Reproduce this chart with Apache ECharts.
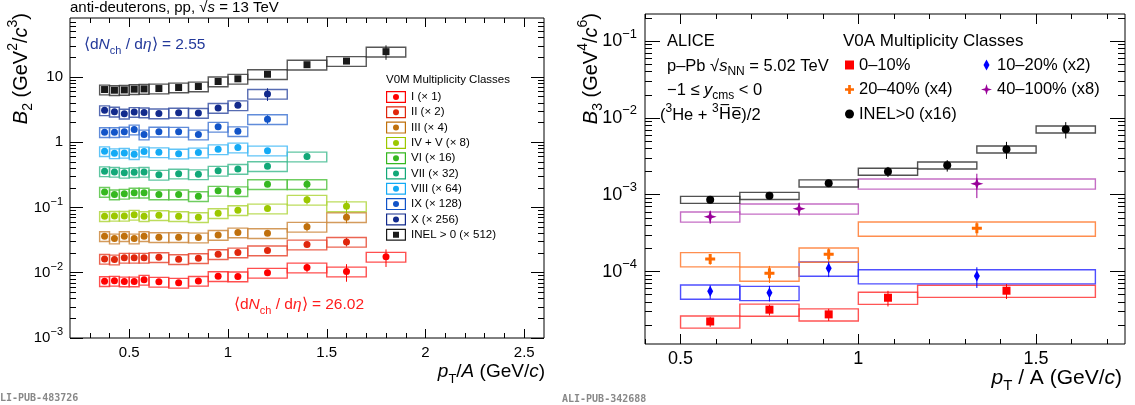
<!DOCTYPE html>
<html>
<head>
<meta charset="utf-8">
<script src="https://cdn.jsdelivr.net/npm/echarts@6/dist/echarts.min.js"></script>
<style>
html, body { margin: 0; padding: 0; background: #fff; }
#chart { width: 1135px; height: 405px; }
</style>
</head>
<body>
<div id="chart"></div>
<script>
// ---- left panel: anti-deuteron B2, pp 13 TeV, V0M classes ----
const edgesD = [0.35, 0.4, 0.45, 0.5, 0.55, 0.6, 0.7, 0.8, 0.9, 1.0, 1.1, 1.3, 1.5, 1.7, 1.9];
const b2I    = [0.00741, 0.00751, 0.00733, 0.00733, 0.00778, 0.00726, 0.0070, 0.0075, 0.00886, 0.00876, 0.00996, 0.0120, 0.0104, 0.0175];
const b2II   = [0.0163, 0.0159, 0.0169, 0.0169, 0.0169, 0.0173, 0.0161, 0.0167, 0.0192, 0.0204, 0.0219, 0.0270, 0.0297];
const b2III  = [0.0362, 0.0334, 0.0362, 0.0334, 0.0362, 0.0350, 0.0350, 0.0346, 0.0380, 0.0413, 0.0403, 0.0505, 0.0708];
const b2IV   = [0.0733, 0.0743, 0.0743, 0.0771, 0.0733, 0.0760, 0.0733, 0.0708, 0.0815, 0.0906, 0.0962, 0.131, 0.104];
const b2VI   = [0.173, 0.158, 0.162, 0.168, 0.168, 0.158, 0.158, 0.149, 0.180, 0.177, 0.227, 0.227];
const b2VII  = [0.358, 0.351, 0.339, 0.346, 0.351, 0.316, 0.330, 0.322, 0.364, 0.390, 0.428, 0.602];
const b2VIII = [0.726, 0.676, 0.686, 0.653, 0.718, 0.700, 0.668, 0.693, 0.778, 0.826, 0.743];
const b2IX   = [1.42, 1.42, 1.45, 1.56, 1.31, 1.45, 1.44, 1.31, 1.72, 1.47, 2.25];
const b2X    = [3.08, 2.93, 2.73, 2.90, 2.86, 2.76, 2.83, 2.80, 3.34, 3.67, 5.50];
const b2INEL = [6.41, 6.26, 6.32, 6.49, 6.55, 6.64, 6.88, 7.13, 8.51, 9.36, 11.0, 15.4, 17.5, 24.4];
// relative stat. errors
const stI    = [.03, .03, .03, .03, .03, .03, .03, .04, .04, .04, .06, .15, .30, .30];
const stII   = [.03, .03, .03, .03, .03, .03, .03, .03, .04, .05, .06, .08, .15];
const stIII  = [.03, .03, .03, .03, .03, .03, .03, .03, .04, .05, .06, .15, .19];
const stIV   = [.03, .03, .03, .03, .03, .03, .03, .03, .04, .05, .06, .15, .22];
const stVI   = [.03, .03, .03, .03, .03, .03, .03, .03, .04, .05, .06, .16];
const stVII  = [.03, .03, .03, .03, .03, .03, .03, .03, .04, .05, .06, .11];
const stVIII = [.03, .03, .03, .03, .03, .03, .03, .03, .04, .05, .07];
const stIX   = [.03, .03, .03, .03, .03, .03, .03, .03, .04, .06, .15];
const stX    = [.03, .03, .03, .03, .03, .03, .03, .03, .05, .08, .22];
const stINEL = [.02, .02, .02, .02, .02, .02, .02, .02, .02, .03, .03, .05, .08, .25];
const sysB2 = 0.17;

// ---- right panel: 3He B3, p-Pb 5.02 TeV, V0A classes ----
const edges0_10   = [0.5, 0.6667, 0.8333, 1.0, 1.1667, 1.6667];
const edges10_20  = [0.5, 0.6667, 0.8333, 1.0, 1.6667];
const edges20_40  = [0.5, 0.6667, 0.8333, 1.0, 1.6667];
const edges40_100 = [0.5, 0.6667, 1.0, 1.6667];
const edgesInel   = [0.5, 0.6667, 0.8333, 1.0, 1.1667, 1.3333, 1.5, 1.6667];
const b3_0_10   = [2.24e-5, 3.19e-5, 2.77e-5, 4.56e-5, 5.63e-5];
const b3_10_20  = [5.52e-5, 5.30e-5, 1.10e-4, 8.74e-5];
const b3_20_40  = [1.455e-4, 9.47e-5, 1.675e-4, 3.65e-4];
const b3_40_100 = [5.18e-4, 6.58e-4, 1.39e-3];
const b3_inel   = [8.61e-4, 9.70e-4, 1.41e-3, 2.0e-3, 2.41e-3, 3.90e-3, 7.1e-3];
const st0_10   = [.15, .16, .18, .23, .22];
const st10_20  = [.20, .23, .23, .30];
const st20_40  = [.16, .25, .20, .20];
const st40_100 = [.19, .19, .35];
const stInel   = [.09, .09, .06, .15, .17, .25, .24];
const sys0_10 = 0.18, sys10_20 = 0.21, sys20_40 = 0.21, sys40_100 = 0.15, sysInel = 0.105;

// axis ticks
const xMajL = [0.5, 1, 1.5, 2, 2.5];
const xMinL = [0.3, 0.4, 0.6, 0.7, 0.8, 0.9, 1.1, 1.2, 1.3, 1.4, 1.6, 1.7, 1.8, 1.9, 2.1, 2.2, 2.3, 2.4];
const yMajL = [1e-3, 1e-2, 1e-1, 1, 10];
const xMajR = [0.5, 1, 1.5];
const xMinR = [0.4, 0.6, 0.7, 0.8, 0.9, 1.1, 1.2, 1.3, 1.4, 1.6, 1.7];
const yMajR = [1e-4, 1e-3, 1e-2, 1e-1];

const FONT = 'Liberation Sans, Arial, Helvetica, sans-serif';

function logMinors(e0, e1, lo, hi) {
  const out = [];
  for (let e = e0; e <= e1; e++) {
    for (let m = 2; m <= 9; m++) {
      const v = m * Math.pow(10, e);
      if (v > lo && v < hi) out.push(v);
    }
  }
  return out;
}

function centers(edges) {
  return edges.slice(0, -1).map((e, i) => (e + edges[i + 1]) / 2);
}

function pow10Label(v) {
  const e = Math.round(Math.log10(v));
  if (e === 0) return '1';
  if (e === 1) return '10';
  return '10{sup|\u2212' + Math.abs(e) + '}';
}

function tick(vals, len) {
  return { show: true, inside: true, length: len, customValues: vals, lineStyle: { color: '#000', width: 1 } };
}

// 4 axes per side: majors + minors, mirrored on the opposite side (ROOT style)
function xAxes(gi, min, max, majors, minors, fontSize, margin, majLen, minLen) {
  const base = { gridIndex: gi, type: 'value', min: min, max: max, axisLine: { show: false, onZero: false }, splitLine: { show: false } };
  return [
    Object.assign({}, base, { position: 'bottom', axisTick: tick(majors, majLen),
      axisLabel: { show: true, customValues: majors, fontSize: fontSize, fontFamily: FONT, color: '#000', margin: margin } }),
    Object.assign({}, base, { position: 'bottom', axisTick: tick(minors, minLen), axisLabel: { show: false } }),
    Object.assign({}, base, { position: 'top', axisTick: tick(majors, majLen), axisLabel: { show: false } }),
    Object.assign({}, base, { position: 'top', axisTick: tick(minors, minLen), axisLabel: { show: false } })
  ];
}

function yAxes(gi, min, max, majors, minors, fontSize, margin, majLen, minLen) {
  const base = { gridIndex: gi, type: 'log', logBase: 10, min: min, max: max, axisLine: { show: false, onZero: false }, splitLine: { show: false } };
  return [
    Object.assign({}, base, { position: 'left', axisTick: tick(majors, majLen),
      axisLabel: { show: true, customValues: majors, fontSize: fontSize, fontFamily: FONT, color: '#000', margin: margin,
        lineHeight: Math.round(fontSize * 1.5), formatter: pow10Label,
        rich: { sup: { fontSize: Math.round(fontSize * 0.7), fontFamily: FONT, color: '#000', verticalAlign: 'top' } } } }),
    Object.assign({}, base, { position: 'left', axisTick: tick(minors, minLen), axisLabel: { show: false } }),
    Object.assign({}, base, { position: 'right', axisTick: tick(majors, majLen), axisLabel: { show: false } }),
    Object.assign({}, base, { position: 'right', axisTick: tick(minors, minLen), axisLabel: { show: false } })
  ];
}

// systematic boxes, stat error bars and markers for one data set
function dataSeries(ax, s) {
  const mids = centers(s.edges);
  const boxes = s.vals.map((v, i) => [s.edges[i], s.edges[i + 1], v]);
  const bars = s.vals.map((v, i) => [mids[i], v, s.err[i]]);
  const sys = s.sys;
  return [
    {
      type: 'custom', xAxisIndex: ax, yAxisIndex: ax, z: 1, silent: true,
      encode: { x: [0, 1], y: 2 }, data: boxes,
      renderItem: function (params, api) {
        const a = api.coord([api.value(0), api.value(2) * (1 + sys)]);
        const b = api.coord([api.value(1), api.value(2) * (1 - sys)]);
        return { type: 'rect', shape: { x: a[0], y: a[1], width: b[0] - a[0], height: b[1] - a[1] },
          style: { fill: 'none', stroke: s.box, lineWidth: 1.4, opacity: 0.85 } };
      }
    },
    {
      type: 'custom', xAxisIndex: ax, yAxisIndex: ax, z: 2, silent: true,
      encode: { x: 0, y: 1 }, data: bars,
      renderItem: function (params, api) {
        const v = api.value(1), e = api.value(2);
        const a = api.coord([api.value(0), v * (1 + e)]);
        const b = api.coord([api.value(0), v * (1 - e)]);
        return { type: 'line', shape: { x1: a[0], y1: a[1], x2: b[0], y2: b[1] },
          style: { stroke: s.color, lineWidth: 1 } };
      }
    },
    {
      name: s.name, type: 'scatter', xAxisIndex: ax, yAxisIndex: ax, z: 3,
      symbol: s.sym, symbolSize: s.size, itemStyle: { color: s.color, opacity: 1 },
      data: s.vals.map((v, i) => [mids[i], v])
    }
  ];
}

const ICON_DOT = 'path://M0,0H20V12H0Z M1.2,1.2V10.8H18.8V1.2Z M10,3A3,3 0 1 1 10,9A3,3 0 1 1 10,3Z';
const ICON_SQ = 'path://M0,0H20V12H0Z M1.2,1.2V10.8H18.8V1.2Z M7,3H13V9H7Z';
const SYM_DIAMOND = 'path://M3,0L6,5.5L3,11L0,5.5Z';
const SYM_CROSS = 'path://M3.5,0H6.5V3.5H10V6.5H6.5V10H3.5V6.5H0V3.5H3.5Z';
const SYM_STAR = 'path://M6,0L7.4,4.6L12,6L7.4,7.4L6,12L4.6,7.4L0,6L4.6,4.6Z';

const leftSets = [
  { name: 'I (\u00d7 1)', vals: b2I, err: stI, color: '#ff0000', box: '#ff3030' },
  { name: 'II (\u00d7 2)', vals: b2II, err: stII, color: '#e0260c', box: '#e84a34' },
  { name: 'III (\u00d7 4)', vals: b2III, err: stIII, color: '#c0700c', box: '#cc8a40' },
  { name: 'IV + V (\u00d7 8)', vals: b2IV, err: stIV, color: '#9cc800', box: '#b0d640' },
  { name: 'VI (\u00d7 16)', vals: b2VI, err: stVI, color: '#36b820', box: '#56c444' },
  { name: 'VII (\u00d7 32)', vals: b2VII, err: stVII, color: '#12a878', box: '#44bc92' },
  { name: 'VIII (\u00d7 64)', vals: b2VIII, err: stVIII, color: '#14aaf5', box: '#44baf6' },
  { name: 'IX (\u00d7 128)', vals: b2IX, err: stIX, color: '#1254c8', box: '#4478d4' },
  { name: 'X (\u00d7 256)', vals: b2X, err: stX, color: '#122a8c', box: '#3a52a4' },
  { name: 'INEL > 0 (\u00d7 512)', vals: b2INEL, err: stINEL, color: '#1a1a1a', box: '#3a3a3a', square: true }
];
leftSets.forEach(s => {
  s.edges = edgesD; s.sys = sysB2;
  s.sym = s.square ? 'rect' : 'circle';
  s.size = 7;
});

const rightSets = [
  { name: '0\u201310%', edges: edges0_10, vals: b3_0_10, err: st0_10, sys: sys0_10, color: '#ff0000', box: '#ff3636', sym: 'rect', size: 8, icon: 'rect' },
  { name: '10\u201320% (x2)', edges: edges10_20, vals: b3_10_20, err: st10_20, sys: sys10_20, color: '#0000ff', box: '#3030ff', sym: SYM_DIAMOND, size: [6, 11], icon: SYM_DIAMOND },
  { name: '20\u201340% (x4)', edges: edges20_40, vals: b3_20_40, err: st20_40, sys: sys20_40, color: '#ff6a00', box: '#ff7a30', sym: SYM_CROSS, size: 10, icon: SYM_CROSS },
  { name: '40\u2013100% (x8)', edges: edges40_100, vals: b3_40_100, err: st40_100, sys: sys40_100, color: '#990099', box: '#bb55bb', sym: SYM_STAR, size: 13, icon: SYM_STAR },
  { name: 'INEL>0 (x16)', edges: edgesInel, vals: b3_inel, err: stInel, sys: sysInel, color: '#000000', box: '#333333', sym: 'circle', size: 8, icon: 'circle' }
];

let series = [];
leftSets.forEach(s => { series = series.concat(dataSeries(0, s)); });
rightSets.forEach(s => { series = series.concat(dataSeries(4, s)); });

function rich(size, color) {
  const small = Math.round(size * 0.7);
  return {
    it: { fontStyle: 'italic', fontSize: size, fontFamily: FONT, fill: color },
    sub: { fontSize: small, fontFamily: FONT, verticalAlign: 'bottom', fill: color },
    sup: { fontSize: small, fontFamily: FONT, verticalAlign: 'top', fill: color },
    ov: { fontSize: size, fontFamily: 'DejaVu Sans', fill: color }
  };
}

function label(x, y, text, size, color, extra) {
  color = color || '#000';
  return Object.assign({
    type: 'text', x: x, y: y, silent: true,
    style: { text: text, fontFamily: FONT, fontSize: size, fill: color, align: 'left', verticalAlign: 'middle',
      lineHeight: Math.round(size * 1.45), rich: rich(size, color) }
  }, extra || {});
}

function rlabel(x, y, text, size, color) {
  const g = label(x, y, text, size, color);
  g.style.align = 'right';
  return g;
}

function vlabel(x, y, text, size) {
  const g = label(x, y, text, size, '#000', { rotation: Math.PI / 2 });
  g.style.align = 'right';
  return g;
}

function stamp(x, y, text) {
  return { type: 'text', x: x, y: y, silent: true,
    style: { text: text, fontFamily: 'DejaVu Sans Mono', fontWeight: 'bold', fontSize: 10, fill: '#888888', verticalAlign: 'middle' } };
}

const chart = echarts.init(document.getElementById('chart'));
chart.setOption({
  animation: false,
  backgroundColor: '#fff',
  grid: [
    { left: 70, top: 18, width: 474, height: 320, show: true, borderColor: '#000', borderWidth: 1 },
    { left: 645, top: 14, width: 480, height: 330, show: true, borderColor: '#000', borderWidth: 1 }
  ],
  xAxis: [].concat(
    xAxes(0, 0.2, 2.6, xMajL, xMinL, 15, 7, 9, 5),
    xAxes(1, 0.4, 1.75, xMajR, xMinR, 18, 6, 10, 5)
  ),
  yAxis: [].concat(
    yAxes(0, 1e-3, 80, yMajL, logMinors(-3, 1, 1e-3, 80), 15, 7, 13, 6),
    yAxes(1, 1.14e-5, 0.225, yMajR, logMinors(-5, -1, 1.14e-5, 0.225), 18, 8, 15, 7)
  ),
  legend: [
    {
      data: leftSets.map(s => ({ name: s.name, icon: s.square ? ICON_SQ : ICON_DOT })),
      orient: 'vertical', left: 386, top: 91, itemWidth: 20, itemHeight: 12, itemGap: 3.3, padding: 0,
      selectedMode: false,
      textStyle: { fontFamily: FONT, fontSize: 11.5, color: '#000', lineHeight: 12 }
    },
    {
      data: [0, 2, 4].map(i => ({ name: rightSets[i].name, icon: rightSets[i].icon })),
      orient: 'vertical', left: 845, top: 56, itemWidth: 9, itemHeight: 9, itemGap: 6.5, padding: 0,
      selectedMode: false,
      textStyle: { fontFamily: FONT, fontSize: 16.5, color: '#000', lineHeight: 18 }
    },
    {
      data: [1, 3].map(i => ({ name: rightSets[i].name, icon: rightSets[i].icon })),
      orient: 'vertical', left: 981, top: 56, itemWidth: 11, itemHeight: 11, itemGap: 6.5, padding: 0,
      selectedMode: false,
      textStyle: { fontFamily: FONT, fontSize: 16.5, color: '#000', lineHeight: 18 }
    }
  ],
  graphic: [
    label(70, 8, 'anti-deuterons, pp, \u221a{it|s} = 13 TeV', 15),
    label(84, 45, '\u27e8d{it|N}{sub|ch} / d{it|\u03b7}\u27e9 = 2.55', 15.5, '#23399a'),
    label(234, 305, '\u27e8d{it|N}{sub|ch} / d{it|\u03b7}\u27e9 = 26.02', 15.5, '#ff1c1c'),
    label(386, 80, 'V0M Multiplicity Classes', 11.5),
    vlabel(21, 13, '{it|B}{sub|2} (GeV{sup|2}/{it|c}{sup|3})', 20),
    rlabel(545, 372, '{it|p}{sub|T}/{it|A} (GeV/{it|c})', 19),
    stamp(0, 398, 'LI-PUB-483726'),
    label(667, 41, 'ALICE', 16.5),
    label(667, 66, 'p\u2013Pb \u221a{it|s}{sub|NN} = 5.02 TeV', 16.5),
    label(667, 90, '\u22121 \u2264 {it|y}{sub|cms} < 0', 16.5),
    label(660, 115, '({sup|3}He + {sup|3}{ov|H\u0305e\u0305})/2', 16.5),
    label(843, 41, 'V0A Multiplicity Classes', 17),
    vlabel(591, 13, '{it|B}{sub|3} (GeV{sup|4}/{it|c}{sup|6})', 20),
    rlabel(1122, 378, '{it|p}{sub|T} / A (GeV/{it|c})', 21),
    stamp(562, 399, 'ALI-PUB-342688')
  ],
  series: series
});
</script>
</body>
</html>
